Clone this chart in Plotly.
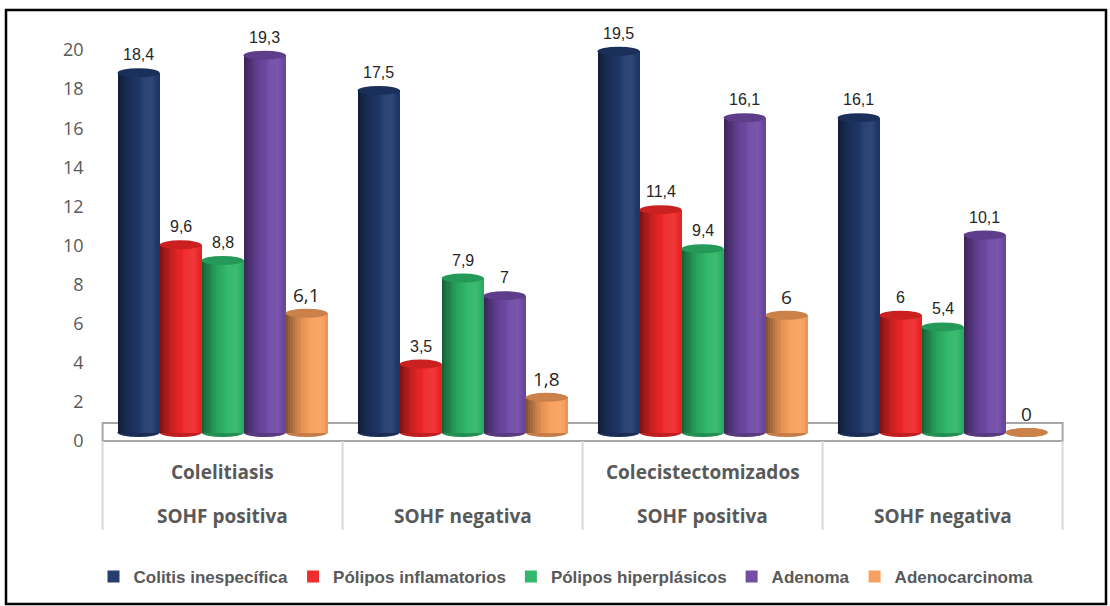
import numpy as np
import plotly.graph_objects as go

# ---- data -------------------------------------------------------------
group_top = ["Colelitiasis", "", "Colecistectomizados", ""]
group_sub = ["SOHF positiva", "SOHF negativa", "SOHF positiva", "SOHF negativa"]

series_names = [
    "Colitis inespecífica",
    "Pólipos inflamatorios",
    "Pólipos hiperplásicos",
    "Adenoma",
    "Adenocarcinoma",
]
colitis = [18.4, 17.5, 19.5, 16.1]
polipos_inflamatorios = [9.6, 3.5, 11.4, 6]
polipos_hiperplasicos = [8.8, 7.9, 9.4, 5.4]
adenoma = [19.3, 7, 16.1, 10.1]
adenocarcinoma = [6.1, 1.8, 6, 0]
series_values = [colitis, polipos_inflamatorios, polipos_hiperplasicos, adenoma, adenocarcinoma]

series_colors = [(31, 56, 106), (238, 38, 38), (44, 180, 102), (110, 72, 164), (247, 158, 90)]
big_label = [False, False, False, False, True]   # adenocarcinoma labels use a larger face
y_ticks = list(range(0, 21, 2))

# ---- geometry ---------------------------------------------------------
W, H = 1110, 606
PX_PER_CAT = 240.0
X0_PX = 102.6            # pixel column of category 0
Y_ZERO = 441.0           # pixel row of the value 0 on the tick axis
Y_BOTTOM = 452.0
Y_TOP = 14.0
PX_PER_UNIT = 19.55
DEPTH = 8.5              # cylinders stand this far behind the floor's front edge
BAR_W = 0.175            # in category units
CAP = 4.5 / PX_PER_UNIT  # half height of the elliptic caps
N_STRIPS = 18
XPAD = 0.1

x_range = [-XPAD, len(group_sub) + XPAD]
x_dom = [(X0_PX - XPAD * PX_PER_CAT) / W, (X0_PX + (len(group_sub) + XPAD) * PX_PER_CAT) / W]
y_dom = [1 - Y_BOTTOM / H, 1 - Y_TOP / H]
y_range = [-(Y_BOTTOM - Y_ZERO) / PX_PER_UNIT, (Y_ZERO - Y_TOP) / PX_PER_UNIT]
shift = DEPTH / PX_PER_UNIT
y2_range = [y_range[0] - shift, y_range[1] - shift]


def shade(rgb, f):
    r = []
    for c in rgb:
        if f <= 1:
            v = c * f
        else:
            v = c + (255 - c) * (f - 1) * 1.6
        r.append(int(max(0, min(255, round(v)))))
    return "rgb(%d,%d,%d)" % tuple(r)


def profile(t):
    # light falls from the front-right: dark left rim, bright right-of-centre, softer right rim
    return float(np.interp(t, [0, 0.12, 0.35, 0.6, 0.8, 0.93, 1.0],
                           [0.5, 0.66, 0.9, 1.03, 1.05, 1.0, 0.92]))


def fmt(v):
    return ("%g" % v).replace(".", ",")


fig = go.Figure()
shapes = []
annotations = []

# floor of the 3D plot area
shapes.append(dict(type="rect", xref="x", yref="y", x0=0, x1=len(group_sub),
                   y0=0, y1=(Y_ZERO - 423) / PX_PER_UNIT,
                   line=dict(color="#A6A6A6", width=2), fillcolor="white", layer="below"))

sw = BAR_W / N_STRIPS
for i, (name, vals, col) in enumerate(zip(series_names, series_values, series_colors)):
    centers = [g + 0.5 + (i - 2) * BAR_W for g in range(len(vals))]
    for k in range(N_STRIPS):
        t = (k + 0.5) / N_STRIPS
        xs = [c - BAR_W / 2 + (k + 0.5) * sw for c in centers]
        fig.add_trace(go.Bar(
            x=xs, y=vals, width=sw * 1.25, yaxis="y2",
            marker=dict(color=shade(col, profile(t)), line=dict(width=0)),
            name=name, legendgroup=name,
            showlegend=(k == int(N_STRIPS * 0.6)),
            hoverinfo="skip",
        ))
    for c, v in zip(centers, vals):
        # rounded base
        shapes.append(dict(type="circle", xref="x", yref="y2",
                           x0=c - BAR_W / 2, x1=c + BAR_W / 2, y0=-CAP, y1=CAP,
                           fillcolor=shade(col, 0.8), line=dict(width=0), layer="below"))
        # top cap
        shapes.append(dict(type="circle", xref="x", yref="y2",
                           x0=c - BAR_W / 2, x1=c + BAR_W / 2, y0=v - CAP, y1=v + CAP,
                           fillcolor=shade(col, 0.85 if i < 4 else 0.82),
                           line=dict(width=0), layer="above"))
        if big_label[i]:
            font = dict(family="Open Sans", size=19, color="#262626")
        else:
            font = dict(family="Liberation Sans, Arial", size=16, color="#262626")
        annotations.append(dict(x=c, y=v, xref="x", yref="y2", text=fmt(v),
                                showarrow=False, yshift=18, font=font,
                                xanchor="center", yanchor="middle"))

# category axis: divider lines and two label rows
for g in range(len(group_sub) + 1):
    shapes.append(dict(type="line", xref="x", yref="paper", x0=g, x1=g,
                       y0=1 - 530 / H, y1=1 - Y_ZERO / H,
                       line=dict(color="#D9D9D9", width=2)))
for g, (top, sub) in enumerate(zip(group_top, group_sub)):
    cat_font = dict(family="Open Sans", size=19, color="#595959", weight="bold")
    if top:
        annotations.append(dict(x=g + 0.5, y=1 - 472 / H, xref="x", yref="paper",
                                text=top, showarrow=False, font=cat_font,
                                xanchor="center", yanchor="middle"))
    annotations.append(dict(x=g + 0.5, y=1 - 516 / H, xref="x", yref="paper",
                            text=sub, showarrow=False, font=cat_font,
                            xanchor="center", yanchor="middle"))

# outer frame
shapes.append(dict(type="rect", xref="paper", yref="paper",
                   x0=6 / W, x1=1106 / W, y0=1 - 604 / H, y1=1 - 10 / H,
                   line=dict(color="black", width=2.5), fillcolor="rgba(0,0,0,0)"))

fig.update_layout(
    width=W, height=H,
    margin=dict(l=0, r=0, t=0, b=0),
    paper_bgcolor="white", plot_bgcolor="rgba(0,0,0,0)",
    barmode="overlay", bargap=0,
    xaxis=dict(domain=x_dom, range=x_range, visible=False, fixedrange=True),
    yaxis=dict(domain=y_dom, range=y_range, anchor="free", position=X0_PX / W,
               tickvals=y_ticks, ticktext=[str(v) for v in y_ticks],
               showgrid=False, zeroline=False, showline=False, ticks="",
               ticklabelstandoff=19,
               tickfont=dict(family="Open Sans", size=18, color="#595959")),
    yaxis2=dict(range=y2_range, overlaying="y", visible=False),
    legend=dict(orientation="h", x=566 / W, xanchor="center",
                y=1 - 577 / H, yanchor="middle", itemwidth=30,
                font=dict(family="Liberation Sans, Arial", size=17, color="#595959", weight="bold"),
                bgcolor="rgba(0,0,0,0)"),
    shapes=shapes,
    annotations=annotations,
)

fig.write_html("out.html")
